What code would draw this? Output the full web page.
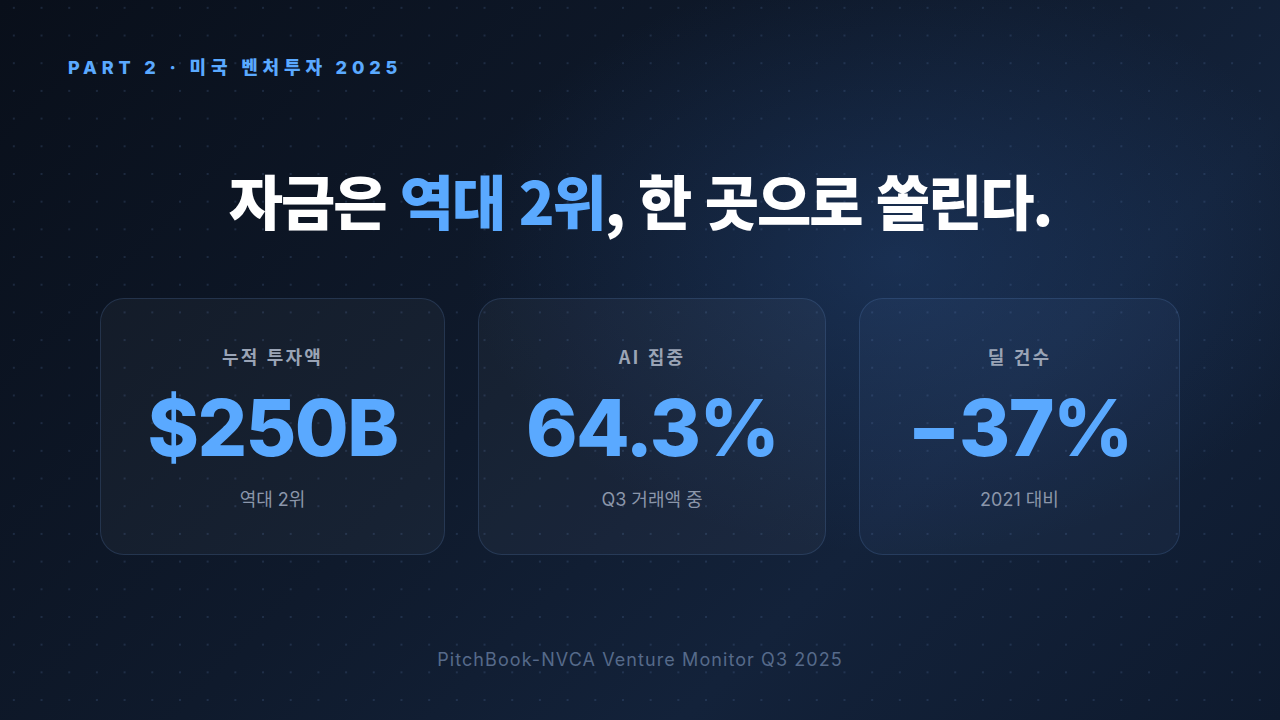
<!DOCTYPE html>
<html lang="ko">
<head>
<meta charset="utf-8">
<script src="https://cdn.jsdelivr.net/npm/chart.js@4.4.1/dist/chart.umd.min.js"></script>
<style>
  html, body { margin: 0; padding: 0; }
  body {
    width: 1280px; height: 720px; overflow: hidden; position: relative;
    font-family: Inter, "Noto Sans CJK KR", sans-serif;
    background:
      radial-gradient(ellipse 620px 420px at 900px 260px, rgba(40,80,140,0.35), rgba(40,80,140,0) 70%),
      linear-gradient(135deg, #090f1a 0%, #0f1a2c 45%, #13223a 70%, #0e1a2e 100%);
  }
  .dots {
    position: absolute; inset: 0;
    background-image: radial-gradient(circle, rgba(90,120,170,0.22) 1px, transparent 1.4px);
    background-size: 27.7px 27.7px;
    background-position: 0px -6px;
  }
  .kicker {
    position: absolute; left: 68px; top: 53px;
    font-size: 18px; font-weight: 800; letter-spacing: 0.27em; color: #5aa9ff;
  }
  .title {
    position: absolute; left: 0; width: 1280px; top: 157px; text-align: center;
    font-family: "Noto Sans CJK KR", sans-serif;
    font-size: 59px; font-weight: 900; letter-spacing: -0.035em; color: #ffffff;
  }
  .title .hl { color: #5aa9ff; }
  .card {
    position: absolute; top: 298px; height: 257px; box-sizing: border-box;
    border-radius: 24px; border: 1px solid rgba(90,130,190,0.22);
    background: rgba(255,255,255,0.035);
    text-align: center;
  }
  .card .lbl {
    position: absolute; left: 0; right: 0; top: 44px;
    font-family: "Noto Sans CJK KR", sans-serif;
    font-size: 18px; font-weight: 700; letter-spacing: 0.12em; color: #9aa4b6;
  }
  .card .val {
    position: absolute; left: 0; right: 0; top: 86px;
    font-size: 78px; font-weight: 800; letter-spacing: -0.02em; color: #5aa9ff; line-height: 1.1;
  }
  .card .sub {
    position: absolute; left: 0; right: 0; top: 186px;
    font-size: 18px; font-weight: 400; color: #8b96aa;
  }
  .src {
    position: absolute; left: 0; width: 1280px; top: 649px; text-align: center;
    font-size: 18px; letter-spacing: 0.06em; color: #566a8a;
  }
</style>
</head>
<body>
<div class="dots"></div>
<div class="kicker">PART 2 · 미국 벤처투자 2025</div>
<div class="title">자금은 <span class="hl">역대 2위</span>, 한 곳으로 쏠린다.</div>
<div id="cards"></div>
<div class="src">PitchBook-NVCA Venture Monitor Q3 2025</div>
<script>
const kpiLabels = ["누적 투자액", "AI 집중", "딜 건수"];
const kpiValues = ["$250B", "64.3%", "−37%"];
const kpiNotes = ["역대 2위", "Q3 거래액 중", "2021 대비"];

const cardBoxes = [[100, 345], [478, 348], [859, 321]];
const cards = document.getElementById("cards");
kpiLabels.forEach((label, i) => {
    const c = document.createElement("div");
    c.className = "card";
    c.style.left = cardBoxes[i][0] + "px";
    c.style.width = cardBoxes[i][1] + "px";
    if (i === 2) c.style.background = "rgba(120,160,220,0.06)";
    c.innerHTML = `<div class="lbl">${label}</div><div class="val">${kpiValues[i]}</div><div class="sub">${kpiNotes[i]}</div>`;
    cards.appendChild(c);
});
</script>
</body>
</html>
